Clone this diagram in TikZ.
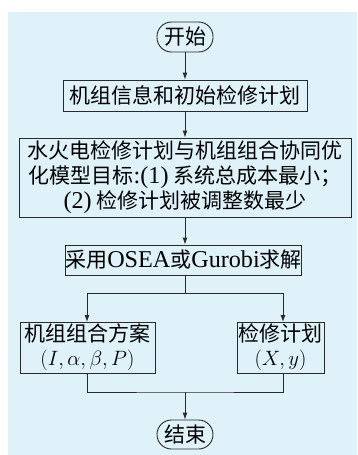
\documentclass[tikz,border=0pt]{standalone}
\usepackage{fontspec}
\setmainfont{Liberation Serif}
\newfontfamily\cjk{Noto Sans CJK SC}
\newfontfamily\lat[Scale=1.15]{Liberation Serif}
\usetikzlibrary{arrows.meta,calc}
\definecolor{bgblue}{HTML}{DFF2FA}
\definecolor{linegray}{HTML}{2A2A2A}
\tikzset{
  x=1pt,y=-1pt,
  box/.style={draw=linegray,line width=0.9pt,rectangle,inner sep=0pt,align=center,
    font=\fontsize{21}{25}\selectfont\cjk},
  term/.style={box,rounded corners=14.5pt},
  conn/.style={draw=linegray,line width=0.9pt},
  arr/.style={conn,-{Latex[length=7pt,width=5pt]}}
}
\begin{document}
\begin{tikzpicture}
\useasboundingbox (0,0) rectangle (357,455);
\fill[bgblue] (8,12) rectangle (357,455);

\node[term,minimum width=56pt,minimum height=30pt] (start) at (185,37) {开始};
\node[box,minimum width=244pt,minimum height=31pt] (info) at (185,95.5) {机组信息和初始检修计划};
\node[box,minimum width=332pt,minimum height=79pt] (model) at (185,177.5)
  {水火电检修计划与机组组合协同优\\化模型目标{\lat:(1)} 系统总成本最小；\\{\lat(2)} 检修计划被调整数最少};
\node[box,minimum width=227pt,minimum height=30pt] (solve) at (183.5,260) {采用{\lat OSEA}或{\lat Gurobi}求解};
\node[box,minimum width=135pt,minimum height=51pt] (uc) at (87.5,347.5)
  {机组组合方案\\[-1pt]$(I, \alpha, \beta, P)$};
\node[box,minimum width=87pt,minimum height=51pt] (mp) at (280.5,347.5)
  {检修计划\\[-1pt]$(X, y)$};
\node[term,minimum width=56pt,minimum height=29pt] (end) at (185,434.5) {结束};

\coordinate (sa) at (185,275);
\coordinate (split) at (185,293);
\coordinate (ucT) at (87,322);
\coordinate (mpT) at (283,322);
\coordinate (ucB) at (87,373);
\coordinate (mpB) at (283,373);
\coordinate (merge) at (185,392);

\draw[arr] (start) -- (info);
\draw[arr] (info) -- (model);
\draw[arr] (model.south) -- (model.south |- solve.north);
\draw[conn] (sa) -- (split);
\draw[arr] (split) -| (ucT);
\draw[arr] (split) -| (mpT);
\draw[conn] (ucB) |- (merge) -| (mpB);
\draw[arr] (merge) -- (end);
\end{tikzpicture}
\end{document}
